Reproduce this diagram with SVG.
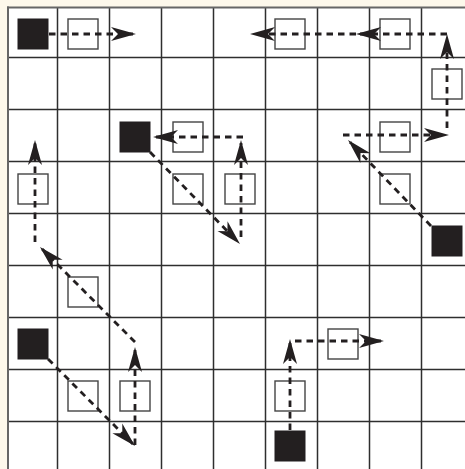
<svg xmlns="http://www.w3.org/2000/svg" width="465" height="469" viewBox="0 0 465 469">
<defs>
<style>
.grid line{stroke:#2e2e2e;stroke-width:1.5}
.border line{stroke:#666;stroke-width:2}
.b{fill:#231f20;stroke:#231f20;stroke-width:1}
.w{fill:#fff;stroke:#444;stroke-width:1.4}
.c line{stroke:#231f20;stroke-width:2.8;stroke-dasharray:6.5 5;fill:none;marker-end:url(#ah)}
</style>
<marker id="ah" markerUnits="userSpaceOnUse" markerWidth="32" markerHeight="20" viewBox="-26 -10 32 20" refX="0" refY="0" orient="auto">
<path d="M3,0 L-22,-7 L-15,0 L-22,7 Z" fill="#231f20"/>
</marker>
</defs>
<rect x="0" y="0" width="465" height="469" fill="#fdf8eb"/>
<rect x="8" y="7.5" width="457" height="461.5" fill="#fff"/>
<g class="grid">
<line x1="57.5" y1="7" x2="57.5" y2="469"/>
<line x1="109.5" y1="7" x2="109.5" y2="469"/>
<line x1="161.5" y1="7" x2="161.5" y2="469"/>
<line x1="213.5" y1="7" x2="213.5" y2="469"/>
<line x1="265.5" y1="7" x2="265.5" y2="469"/>
<line x1="317.5" y1="7" x2="317.5" y2="469"/>
<line x1="369.5" y1="7" x2="369.5" y2="469"/>
<line x1="421.5" y1="7" x2="421.5" y2="469"/>
<line x1="8" y1="57.5" x2="465" y2="57.5"/>
<line x1="8" y1="109.5" x2="465" y2="109.5"/>
<line x1="8" y1="161.5" x2="465" y2="161.5"/>
<line x1="8" y1="213.5" x2="465" y2="213.5"/>
<line x1="8" y1="265.5" x2="465" y2="265.5"/>
<line x1="8" y1="317.5" x2="465" y2="317.5"/>
<line x1="8" y1="369.5" x2="465" y2="369.5"/>
<line x1="8" y1="421.5" x2="465" y2="421.5"/>
</g>
<g class="border">
<line x1="8" y1="6.5" x2="8" y2="469"/>
<line x1="7" y1="7.5" x2="465" y2="7.5"/>
</g>
<g id="black-0-0"><rect class="b" x="18" y="19" width="30" height="30"/></g>
<g id="black-2-2"><rect class="b" x="120" y="122" width="30" height="30"/></g>
<g id="black-8-4"><rect class="b" x="432" y="226" width="30" height="30"/></g>
<g id="black-0-6"><rect class="b" x="18" y="329" width="30" height="30"/></g>
<g id="black-5-8"><rect class="b" x="275" y="431" width="30" height="30"/></g>
<g id="white-1-0"><rect class="w" x="68" y="19" width="30" height="30"/></g>
<g id="white-5-0"><rect class="w" x="275" y="19" width="30" height="30"/></g>
<g id="white-7-0"><rect class="w" x="380" y="19" width="30" height="30"/></g>
<g id="white-8-1"><rect class="w" x="432" y="69" width="30" height="30"/></g>
<g id="white-3-2"><rect class="w" x="173" y="122" width="30" height="30"/></g>
<g id="white-7-2"><rect class="w" x="380" y="122" width="30" height="30"/></g>
<g id="white-0-3"><rect class="w" x="18" y="174" width="30" height="30"/></g>
<g id="white-3-3"><rect class="w" x="173" y="174" width="30" height="30"/></g>
<g id="white-4-3"><rect class="w" x="225" y="174" width="30" height="30"/></g>
<g id="white-7-3"><rect class="w" x="380" y="174" width="30" height="30"/></g>
<g id="white-1-5"><rect class="w" x="68" y="277" width="30" height="30"/></g>
<g id="white-6-6"><rect class="w" x="328" y="329" width="30" height="30"/></g>
<g id="white-1-7"><rect class="w" x="68" y="381" width="30" height="30"/></g>
<g id="white-2-7"><rect class="w" x="120" y="381" width="30" height="30"/></g>
<g id="white-5-7"><rect class="w" x="275" y="381" width="30" height="30"/></g>
<g id="connectors" class="c">
<line x1="49" y1="34" x2="133" y2="34"/>
<line x1="447" y1="128" x2="447" y2="37"/>
<line x1="447" y1="34" x2="359" y2="34"/>
<line x1="356" y1="34" x2="253" y2="34"/>
<line x1="431" y1="226" x2="350.1" y2="142.2"/>
<line x1="343" y1="135" x2="446" y2="135"/>
<line x1="150" y1="152" x2="237.9" y2="241.9"/>
<line x1="241" y1="237" x2="241" y2="143"/>
<line x1="243" y1="137" x2="156" y2="137"/>
<line x1="48" y1="359" x2="132.9" y2="443.9"/>
<line x1="135" y1="445" x2="135" y2="350"/>
<line x1="135" y1="342" x2="42.1" y2="249.1"/>
<line x1="35" y1="242" x2="35" y2="143"/>
<line x1="290" y1="430" x2="290" y2="342"/>
<line x1="295" y1="341" x2="381" y2="341"/>
</g>
</svg>
